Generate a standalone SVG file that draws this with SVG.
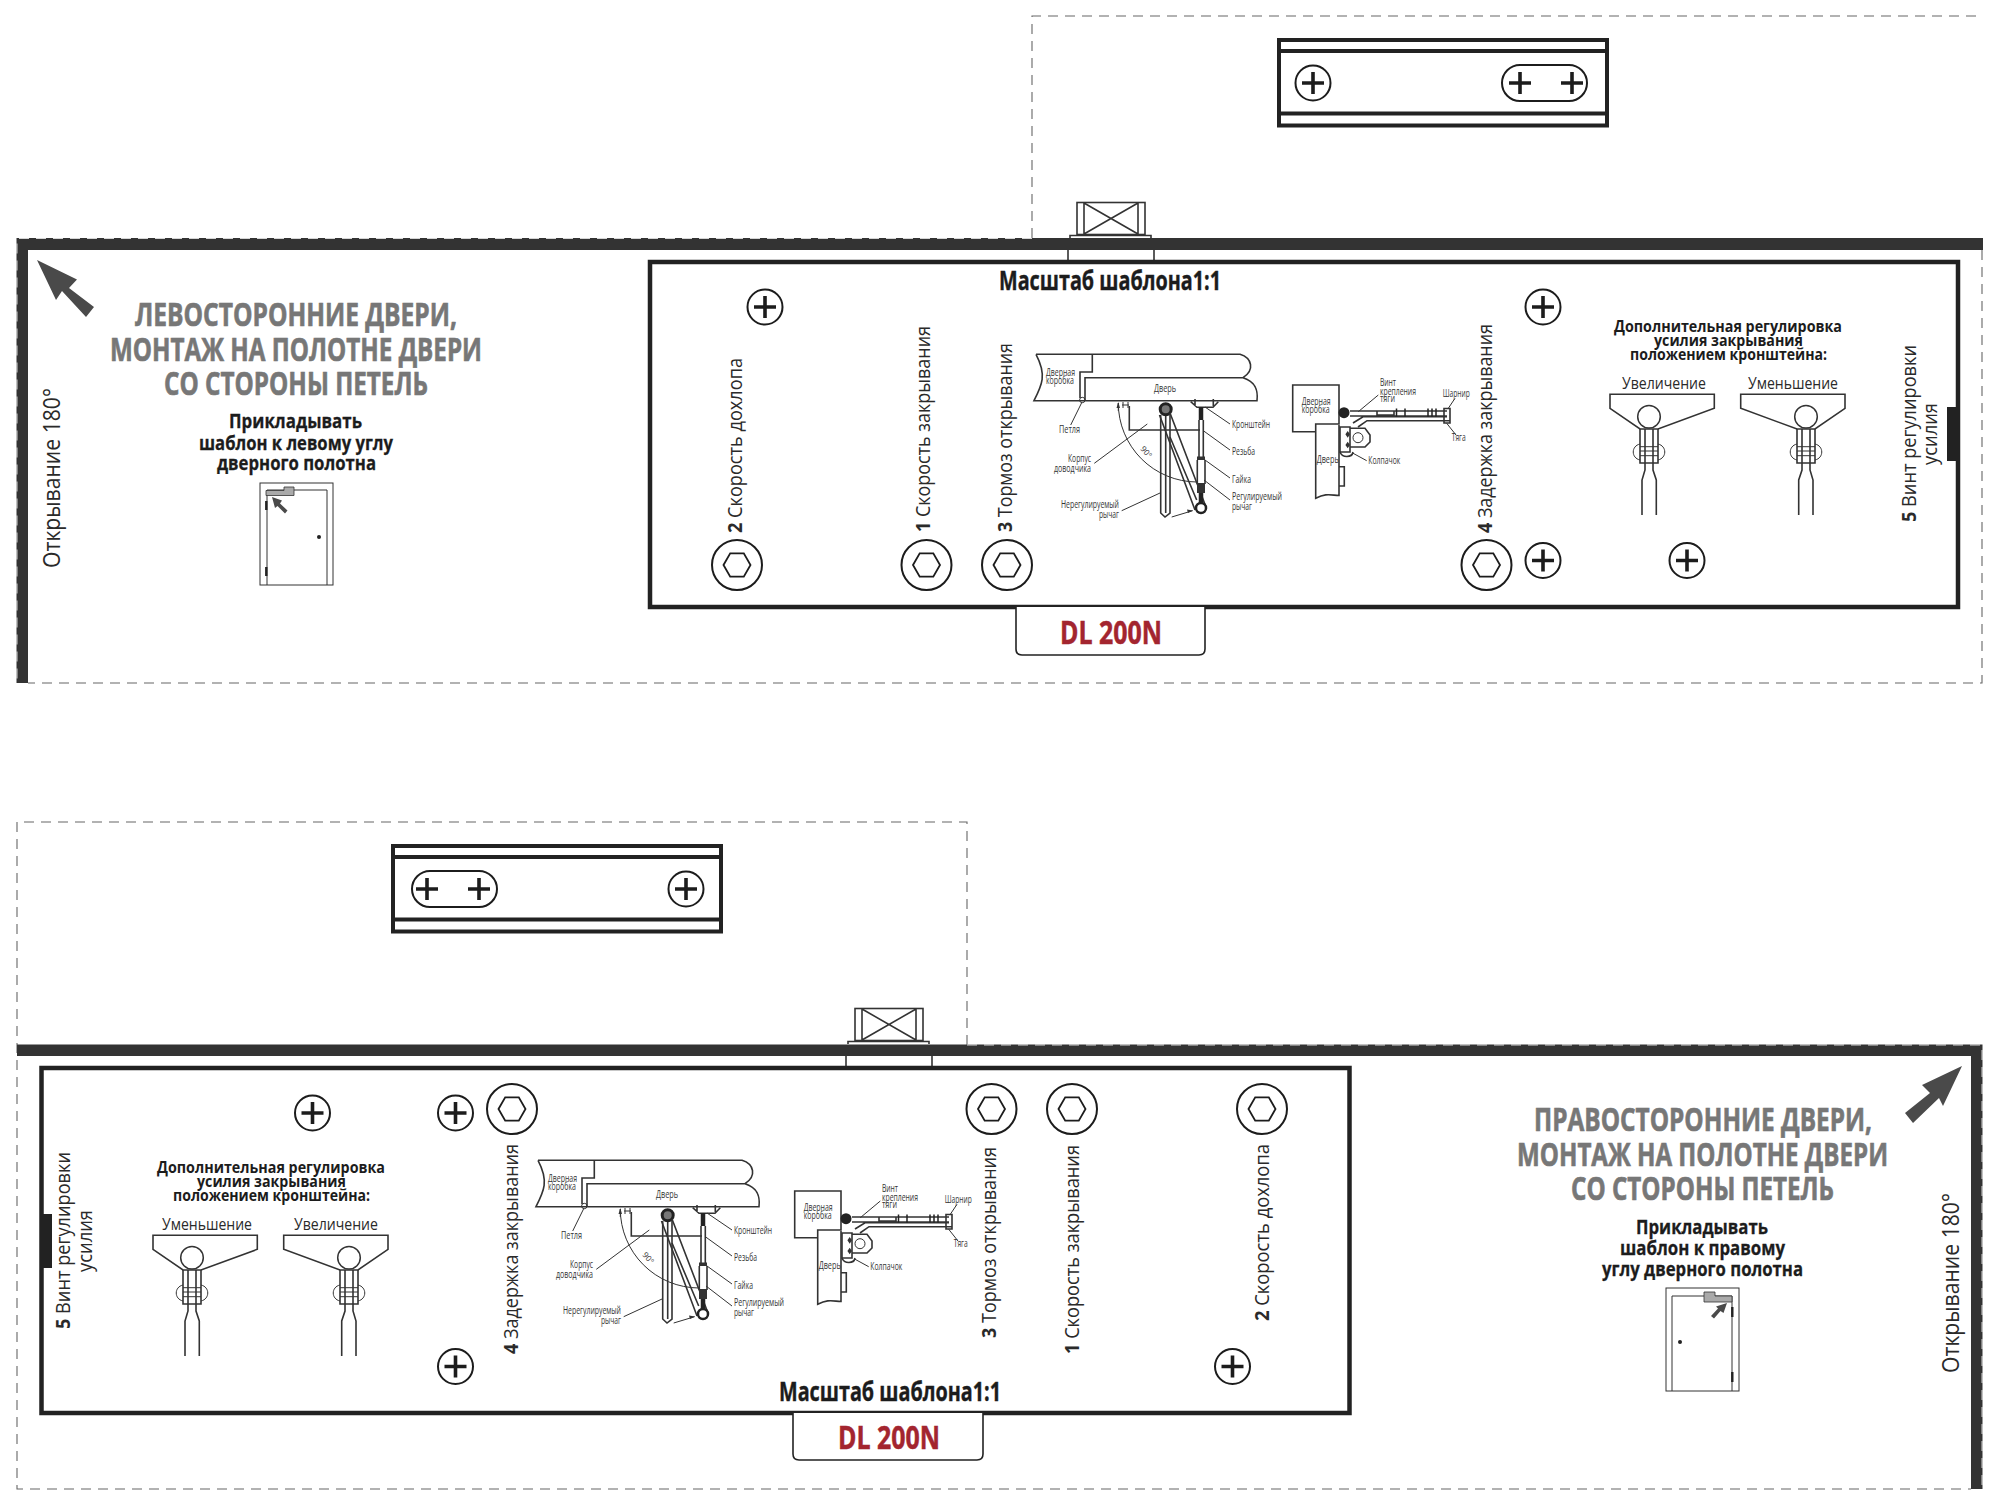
<svg xmlns="http://www.w3.org/2000/svg" xmlns:xlink="http://www.w3.org/1999/xlink" width="2000" height="1501" viewBox="0 0 2000 1501">
<style>
text{font-family:"Open Sans","Liberation Sans",sans-serif;fill:#222}
.hd{font-size:33px;font-weight:700;fill:#777;stroke:#777;stroke-width:.7}
.ins{font-size:19.5px;font-weight:700;fill:#1c1c1c;stroke:#1c1c1c;stroke-width:.3}
.sc{font-size:26px;font-weight:700;fill:#1c1c1c;stroke:#1c1c1c;stroke-width:.4}
.dl{font-size:33px;font-weight:700;fill:#a3252f;stroke:#a3252f;stroke-width:.5}
.lab{font-size:20px;fill:#2a2a2a}
.num{font-weight:700}
.add{font-size:16.5px;font-weight:700;fill:#1c1c1c}
.adl{font-size:15.5px;fill:#2a2a2a}
.op{font-size:23px;fill:#2a2a2a}
.sm{font-size:10px;fill:#333}
.dash{fill:none;stroke:#666;stroke-width:1.1;stroke-dasharray:10 7}
.edge{fill:none;stroke:#fff;stroke-width:.8;stroke-dasharray:10 7}
.bar{fill:#333}
.main{fill:#fff;stroke:#222;stroke-width:4.5}
.thin{fill:none;stroke:#333;stroke-width:1}
.med{fill:none;stroke:#333;stroke-width:1.6}
.blk{fill:#333;stroke:none}
.scr{fill:#fff;stroke:#1c1c1c;stroke-width:2}
.pl{fill:none;stroke:#1c1c1c;stroke-width:3.6}
.hex{fill:none;stroke:#1c1c1c;stroke-width:1.8}
.ar{fill:#4a4a4a}
</style>
<defs>
<g id="screw"><circle class="scr" r="17.5"/><path class="pl" d="M-11 0H11M0 -11V11"/></g>
<g id="hexs"><circle class="scr" r="25"/><path class="hex" d="M-13.5 0L-6.8 -11.7H6.800L13.5 0L6.800 11.7H-6.800Z"/></g>
<g id="plus"><path class="pl" d="M-11 0H11M0 -11V11"/></g>
<g id="adj">
<path class="med" d="M1610 394.3H1714.3V408.3L1658 429H1640L1610 408.3Z"/>
<circle cx="1649" cy="416.7" r="11.3" fill="#fff" stroke="#333" stroke-width="1.5"/>
<path class="med" d="M1640 429V463H1658V429M1645 429V470L1642 480V515M1653 429V470L1656.3 480V515"/>
<path class="thin" d="M1640 446.7H1658M1640 451H1658M1640 455.7H1658M1640 444C1631 446 1631 458 1640 460M1658 444C1667 446 1667 458 1658 460"/>
</g>
<g id="mech">
<path class="med" d="M1036 354.3H1240C1252 358 1255 370 1243 377.7H1085V400.7M1243 377.7C1257 382 1258 392 1257 400.7H1034C1042 385 1047 375 1036 354.3"/>
<path class="med" d="M1092.3 354.3V372H1080V398"/>
<circle class="thin" cx="1082.3" cy="400" r="2.7"/>
<path class="thin" d="M1081.7 402.7L1070.7 425"/>
<path class="med" d="M1129.3 406V430H1200"/>
<path class="thin" d="M1118.3 403V411M1123 402V408M1128 402V408M1122 405H1129M1118.3 403A79 79 0 0 0 1197 482"/>
<path class="blk" d="M1118.3 402L1116.5 408H1120Z"/>
<path class="med" d="M1160.7 415V513L1165 517L1170 513V415M1165.7 415V513"/>
<circle cx="1165.7" cy="409.3" r="5.500" fill="#777" stroke="#222" stroke-width="3"/>
<path class="med" d="M1159.5 415L1195 510M1170 413L1206 507M1170 437L1196.7 500"/>
<circle cx="1201" cy="508" r="5" fill="#fff" stroke="#222" stroke-width="2.5"/>
<path class="med" d="M1190.7 401.7L1197 407.3H1213L1218.3 401.7M1195 399V406M1213.3 399V406"/>
<path d="M1201 407V420M1201 493V504" stroke="#222" stroke-width="4.500" fill="none"/>
<path class="med" d="M1199 420V457M1203.3 420V457M1197.3 460V484M1205 460V484"/>
<rect class="blk" x="1197" y="456.5" width="8" height="3.5"/>
<path class="blk" d="M1197 483H1205V493H1197Z"/>
<path class="thin" d="M1205 407L1230 424M1203.3 430.7L1230 450M1205 460L1230 478M1204 480L1230 500M1094.3 463.3L1147.3 424M1121.7 510.7L1160.7 492.7M1171.7 517L1192.7 510.7"/>
<path class="blk" d="M1193 510.5L1187 509.5L1188 513Z"/>
<path class="med" d="M1292.7 385H1339V424H1315.7V431.7H1292.7ZM1315.7 425V498.3C1326 493 1330 495 1339 495.5V425M1339 466.7H1344.3V486H1339"/>
<circle cx="1344" cy="412.7" r="5.5" fill="#222"/>
<path class="med" d="M1350 411H1447M1350 416H1447M1353 423L1363 416.7H1447M1358 427L1367 420.7H1450M1377 411V415H1394V411"/>
<path d="M1396.5 408.5V416.5M1405 408.5V416.5M1428 408.5V416.5M1432 408.5V416.5M1436 408.5V416.5" stroke="#222" stroke-width="1.5" fill="none"/>
<path class="med" d="M1444 408.5H1450V423H1444Z"/>
<path class="med" d="M1340 427H1350V452H1340ZM1350 428.3H1365L1370 435V442L1365 447H1350"/>
<circle class="thin" cx="1358" cy="437.7" r="5"/>
<path class="blk" d="M1347.7 431L1350 434.3L1347.7 437.7L1345.4 434.3ZM1347.7 441.7L1350 445L1347.7 448.3L1345.4 445Z"/>
<path class="med" d="M1340 452C1342 458 1352 458 1353 452"/>
<path class="thin" d="M1352 452.7L1366.7 460.7M1358.3 411.7L1378.3 395M1448.3 408.3L1455 398.3M1446.7 423.3L1456 435"/>
</g>
</defs>
<rect width="2000" height="1501" fill="#fff"/>

<g id="connectors">
<path class="dash" d="M1032 238V16H1983"/>
<path class="dash" d="M1982 250V683H28"/>
<path class="bar" d="M16.500 238H1983V250H28V683H16.500Z"/>
<path class="edge" d="M1032 238.5H17V683"/>
<path class="dash" d="M967 1045V822H17V1489H1971"/>
<path class="bar" d="M17 1044.500H1982.500V1489H1971V1056H17Z"/>
<path class="edge" d="M967 1045H1982V1489"/>
</g>

<g id="top-door-arm">
<path class="med" d="M1068 250V261M1154 250V261"/>
<path class="med" d="M1070 238V235.500H1151V238"/>
<rect class="med" x="1077" y="202.5" width="68" height="32"/>
<path class="med" d="M1084 203V234M1138 203V234M1084 203L1138 234M1138 203L1084 234"/>
</g>
<g id="bottom-door-arm">
<path class="med" d="M846 1056V1067M932 1056V1067"/>
<path class="med" d="M848 1044V1041.500H929V1044"/>
<rect class="med" x="855" y="1008.5" width="68" height="32"/>
<path class="med" d="M862 1009V1040M916 1009V1040M862 1009L916 1040M916 1009L862 1040"/>
</g>

<g id="top-bracket">
<rect x="1279" y="40" width="328" height="85.500" fill="none" stroke="#222" stroke-width="4"/>
<path d="M1279 51H1607M1279 113.500H1607" stroke="#222" stroke-width="3.800" fill="none"/>
<use xlink:href="#screw" href="#screw" x="1313" y="83"/>
<rect class="scr" x="1502" y="65" width="85" height="36" rx="18"/>
<use xlink:href="#plus" href="#plus" x="1520" y="83"/>
<use xlink:href="#plus" href="#plus" x="1572" y="83"/>
</g>
<g id="bottom-bracket">
<rect x="393" y="846" width="328" height="85.500" fill="none" stroke="#222" stroke-width="4"/>
<path d="M393 857H721M393 919.500H721" stroke="#222" stroke-width="3.800" fill="none"/>
<use xlink:href="#screw" href="#screw" x="686" y="889"/>
<rect class="scr" x="412" y="871" width="85" height="36" rx="18"/>
<use xlink:href="#plus" href="#plus" x="427" y="889"/>
<use xlink:href="#plus" href="#plus" x="479" y="889"/>
</g>

<g id="left-template">
<rect class="main" x="650" y="262" width="1308" height="345"/>
<path d="M1016 607V649Q1016 655 1022 655H1199Q1205 655 1205 649V607" fill="#fff" stroke="#222" stroke-width="1.6"/>
<rect x="1947" y="407" width="11" height="54" fill="#222"/>
<text class="dl" x="1060" y="644" textLength="102" lengthAdjust="spacingAndGlyphs">DL 200N</text>
<text class="sc" x="999" y="290" textLength="222" lengthAdjust="spacingAndGlyphs">Масштаб шаблона1:1</text>
<use xlink:href="#screw" href="#screw" x="765" y="307"/>
<use xlink:href="#screw" href="#screw" x="1543" y="307"/>
<use xlink:href="#screw" href="#screw" x="1543" y="560.500"/>
<use xlink:href="#screw" href="#screw" x="1687" y="560.500"/>
<use xlink:href="#hexs" href="#hexs" x="737" y="565"/>
<use xlink:href="#hexs" href="#hexs" x="926.500" y="565"/>
<use xlink:href="#hexs" href="#hexs" x="1007" y="565"/>
<use xlink:href="#hexs" href="#hexs" x="1486.500" y="565"/>
<text class="lab" transform="translate(742 533) rotate(-90)" textLength="175" lengthAdjust="spacingAndGlyphs"><tspan class="num">2</tspan> Скорость дохлопа</text>
<text class="lab" transform="translate(930 532) rotate(-90)" textLength="206" lengthAdjust="spacingAndGlyphs"><tspan class="num">1</tspan> Скорость закрывания</text>
<text class="lab" transform="translate(1012 532) rotate(-90)" textLength="189" lengthAdjust="spacingAndGlyphs"><tspan class="num">3</tspan> Тормоз открывания</text>
<text class="lab" transform="translate(1492 533) rotate(-90)" textLength="209" lengthAdjust="spacingAndGlyphs"><tspan class="num">4</tspan> Задержка закрывания</text>
<text class="lab" transform="translate(1916 522) rotate(-90)" textLength="177" lengthAdjust="spacingAndGlyphs"><tspan class="num">5</tspan> Винт регулировки</text>
<text class="lab" transform="translate(1937 465) rotate(-90)" textLength="62" lengthAdjust="spacingAndGlyphs">усилия</text>
</g>

<g id="left-mechanism">
<use xlink:href="#mech" href="#mech"/>
<text class="sm" x="1046" y="376" textLength="29" lengthAdjust="spacingAndGlyphs">Дверная</text>
<text class="sm" x="1046" y="384" textLength="28" lengthAdjust="spacingAndGlyphs">коробка</text>
<text class="sm" x="1154" y="392" textLength="22" lengthAdjust="spacingAndGlyphs">Дверь</text>
<text class="sm" x="1059" y="432.7" textLength="21" lengthAdjust="spacingAndGlyphs">Петля</text>
<text class="sm" x="1232" y="427.7" textLength="38" lengthAdjust="spacingAndGlyphs">Кронштейн</text>
<text class="sm" x="1232" y="455" textLength="23" lengthAdjust="spacingAndGlyphs">Резьба</text>
<text class="sm" x="1232" y="483.3" textLength="19" lengthAdjust="spacingAndGlyphs">Гайка</text>
<text class="sm" x="1232" y="500" textLength="50" lengthAdjust="spacingAndGlyphs">Регулируемый</text>
<text class="sm" x="1232" y="510" textLength="20" lengthAdjust="spacingAndGlyphs">рычаг</text>
<text class="sm" x="1068" y="461.7" textLength="23" lengthAdjust="spacingAndGlyphs">Корпус</text>
<text class="sm" x="1054" y="472.3" textLength="37" lengthAdjust="spacingAndGlyphs">доводчика</text>
<text class="sm" x="1061" y="508.3" textLength="58" lengthAdjust="spacingAndGlyphs">Нерегулируемый</text>
<text class="sm" x="1099" y="517.7" textLength="20" lengthAdjust="spacingAndGlyphs">рычаг</text>
<text class="sm" transform="translate(1140 449) rotate(50)" style="font-size:8px">90°</text>
<text class="sm" x="1301.7" y="405" textLength="29" lengthAdjust="spacingAndGlyphs">Дверная</text>
<text class="sm" x="1301.7" y="412.7" textLength="28" lengthAdjust="spacingAndGlyphs">коробка</text>
<text class="sm" x="1316.7" y="462.7" textLength="22" lengthAdjust="spacingAndGlyphs">Дверь</text>
<text class="sm" x="1368.3" y="464" textLength="32" lengthAdjust="spacingAndGlyphs">Колпачок</text>
<text class="sm" x="1380" y="386" textLength="16" lengthAdjust="spacingAndGlyphs">Винт</text>
<text class="sm" x="1380" y="394.7" textLength="36" lengthAdjust="spacingAndGlyphs">крепления</text>
<text class="sm" x="1380" y="402" textLength="15" lengthAdjust="spacingAndGlyphs">тяги</text>
<text class="sm" x="1442.7" y="396.7" textLength="27" lengthAdjust="spacingAndGlyphs">Шарнир</text>
<text class="sm" x="1451.7" y="441" textLength="14" lengthAdjust="spacingAndGlyphs">Тяга</text>
</g>

<g id="left-adjust">
<text class="add" x="1614" y="332" textLength="228" lengthAdjust="spacingAndGlyphs">Дополнительная регулировка</text>
<text class="add" x="1654" y="346" textLength="149" lengthAdjust="spacingAndGlyphs">усилия закрывания</text>
<text class="add" x="1630" y="360" textLength="197" lengthAdjust="spacingAndGlyphs">положением кронштейна:</text>
<text class="adl" x="1622" y="389" textLength="84" lengthAdjust="spacingAndGlyphs">Увеличение</text>
<text class="adl" x="1748" y="389" textLength="90" lengthAdjust="spacingAndGlyphs">Уменьшение</text>
<use xlink:href="#adj" href="#adj"/>
<use xlink:href="#adj" href="#adj" transform="matrix(-1 0 0 1 3455 0)"/>
</g>

<g id="left-title">
<polygon class="ar" points="37,260 77,279.5 69,288 94,307 86,317 62,291 56,300"/>
<text class="hd" x="135" y="326" textLength="322" lengthAdjust="spacingAndGlyphs">ЛЕВОСТОРОННИЕ ДВЕРИ,</text>
<text class="hd" x="110" y="361" textLength="372" lengthAdjust="spacingAndGlyphs">МОНТАЖ НА ПОЛОТНЕ ДВЕРИ</text>
<text class="hd" x="164" y="395" textLength="264" lengthAdjust="spacingAndGlyphs">СО СТОРОНЫ ПЕТЕЛЬ</text>
<text class="ins" x="229" y="428" textLength="133" lengthAdjust="spacingAndGlyphs">Прикладывать</text>
<text class="ins" x="199" y="449.500" textLength="194" lengthAdjust="spacingAndGlyphs">шаблон к левому углу</text>
<text class="ins" x="217" y="470" textLength="159" lengthAdjust="spacingAndGlyphs">дверного полотна</text>
<text class="op" transform="translate(60 568) rotate(-90)" textLength="180" lengthAdjust="spacingAndGlyphs">Открывание 180°</text>
</g>
<g id="left-door">
<rect class="thin" x="260" y="483" width="73" height="102"/>
<path class="thin" d="M267 585V490H327V585"/>
<path d="M266 490.5H284V487H294V495.5H266Z" fill="#aaa" stroke="#333" stroke-width=".8"/>
<path class="ar" d="M272 497L282 500.5L280 503.500L287.500 510.500L285 513.500L277.500 506L275 508Z"/>
<path d="M266.3 501V510M266.3 567V576" stroke="#222" stroke-width="2.4"/>
<circle cx="319" cy="537" r="2" fill="#222"/>
</g>

<g id="right-template">
<rect class="main" x="41.500" y="1068" width="1308" height="345"/>
<path d="M793 1413V1454Q793 1460 799 1460H977Q983 1460 983 1454V1413" fill="#fff" stroke="#222" stroke-width="1.6"/>
<rect x="41" y="1214" width="11" height="54" fill="#222"/>
<text class="dl" x="838" y="1449" textLength="102" lengthAdjust="spacingAndGlyphs">DL 200N</text>
<text class="sc" x="779" y="1401" textLength="222" lengthAdjust="spacingAndGlyphs">Масштаб шаблона1:1</text>
<use xlink:href="#screw" href="#screw" x="312.5" y="1113"/>
<use xlink:href="#screw" href="#screw" x="455.500" y="1113"/>
<use xlink:href="#screw" href="#screw" x="455.500" y="1366.500"/>
<use xlink:href="#screw" href="#screw" x="1232.500" y="1366.500"/>
<use xlink:href="#hexs" href="#hexs" x="512" y="1109"/>
<use xlink:href="#hexs" href="#hexs" x="991.500" y="1109"/>
<use xlink:href="#hexs" href="#hexs" x="1072" y="1109"/>
<use xlink:href="#hexs" href="#hexs" x="1262" y="1109"/>
<text class="lab" transform="translate(518 1354) rotate(-90)" textLength="210" lengthAdjust="spacingAndGlyphs"><tspan class="num">4</tspan> Задержка закрывания</text>
<text class="lab" transform="translate(996 1338) rotate(-90)" textLength="191" lengthAdjust="spacingAndGlyphs"><tspan class="num">3</tspan> Тормоз открывания</text>
<text class="lab" transform="translate(1079 1354) rotate(-90)" textLength="209" lengthAdjust="spacingAndGlyphs"><tspan class="num">1</tspan> Скорость закрывания</text>
<text class="lab" transform="translate(1269 1321) rotate(-90)" textLength="177" lengthAdjust="spacingAndGlyphs"><tspan class="num">2</tspan> Скорость дохлопа</text>
<text class="lab" transform="translate(70 1329) rotate(-90)" textLength="177" lengthAdjust="spacingAndGlyphs"><tspan class="num">5</tspan> Винт регулировки</text>
<text class="lab" transform="translate(92 1272) rotate(-90)" textLength="62" lengthAdjust="spacingAndGlyphs">усилия</text>
</g>

<g id="right-mechanism" transform="translate(-498 806)">
<use xlink:href="#mech" href="#mech"/>
<text class="sm" x="1046" y="376" textLength="29" lengthAdjust="spacingAndGlyphs">Дверная</text>
<text class="sm" x="1046" y="384" textLength="28" lengthAdjust="spacingAndGlyphs">коробка</text>
<text class="sm" x="1154" y="392" textLength="22" lengthAdjust="spacingAndGlyphs">Дверь</text>
<text class="sm" x="1059" y="432.7" textLength="21" lengthAdjust="spacingAndGlyphs">Петля</text>
<text class="sm" x="1232" y="427.7" textLength="38" lengthAdjust="spacingAndGlyphs">Кронштейн</text>
<text class="sm" x="1232" y="455" textLength="23" lengthAdjust="spacingAndGlyphs">Резьба</text>
<text class="sm" x="1232" y="483.3" textLength="19" lengthAdjust="spacingAndGlyphs">Гайка</text>
<text class="sm" x="1232" y="500" textLength="50" lengthAdjust="spacingAndGlyphs">Регулируемый</text>
<text class="sm" x="1232" y="510" textLength="20" lengthAdjust="spacingAndGlyphs">рычаг</text>
<text class="sm" x="1068" y="461.7" textLength="23" lengthAdjust="spacingAndGlyphs">Корпус</text>
<text class="sm" x="1054" y="472.3" textLength="37" lengthAdjust="spacingAndGlyphs">доводчика</text>
<text class="sm" x="1061" y="508.3" textLength="58" lengthAdjust="spacingAndGlyphs">Нерегулируемый</text>
<text class="sm" x="1099" y="517.7" textLength="20" lengthAdjust="spacingAndGlyphs">рычаг</text>
<text class="sm" transform="translate(1140 449) rotate(50)" style="font-size:8px">90°</text>
<text class="sm" x="1301.7" y="405" textLength="29" lengthAdjust="spacingAndGlyphs">Дверная</text>
<text class="sm" x="1301.7" y="412.7" textLength="28" lengthAdjust="spacingAndGlyphs">коробка</text>
<text class="sm" x="1316.7" y="462.7" textLength="22" lengthAdjust="spacingAndGlyphs">Дверь</text>
<text class="sm" x="1368.3" y="464" textLength="32" lengthAdjust="spacingAndGlyphs">Колпачок</text>
<text class="sm" x="1380" y="386" textLength="16" lengthAdjust="spacingAndGlyphs">Винт</text>
<text class="sm" x="1380" y="394.7" textLength="36" lengthAdjust="spacingAndGlyphs">крепления</text>
<text class="sm" x="1380" y="402" textLength="15" lengthAdjust="spacingAndGlyphs">тяги</text>
<text class="sm" x="1442.7" y="396.7" textLength="27" lengthAdjust="spacingAndGlyphs">Шарнир</text>
<text class="sm" x="1451.7" y="441" textLength="14" lengthAdjust="spacingAndGlyphs">Тяга</text>
</g>

<g id="right-adjust" transform="translate(-1457 841)">
<text class="add" x="1614" y="332" textLength="228" lengthAdjust="spacingAndGlyphs">Дополнительная регулировка</text>
<text class="add" x="1654" y="346" textLength="149" lengthAdjust="spacingAndGlyphs">усилия закрывания</text>
<text class="add" x="1630" y="360" textLength="197" lengthAdjust="spacingAndGlyphs">положением кронштейна:</text>
<text class="adl" x="1619" y="389" textLength="90" lengthAdjust="spacingAndGlyphs">Уменьшение</text>
<text class="adl" x="1751" y="389" textLength="84" lengthAdjust="spacingAndGlyphs">Увеличение</text>
<use xlink:href="#adj" href="#adj"/>
<use xlink:href="#adj" href="#adj" transform="matrix(-1 0 0 1 3455 0)"/>
</g>

<g id="right-title">
<polygon class="ar" points="1962,1066 1922,1085 1930,1093 1905,1113 1913,1123 1939,1098 1943,1106"/>
<text class="hd" x="1534" y="1131" textLength="338" lengthAdjust="spacingAndGlyphs">ПРАВОСТОРОННИЕ ДВЕРИ,</text>
<text class="hd" x="1517" y="1166" textLength="371" lengthAdjust="spacingAndGlyphs">МОНТАЖ НА ПОЛОТНЕ ДВЕРИ</text>
<text class="hd" x="1571" y="1200" textLength="263" lengthAdjust="spacingAndGlyphs">СО СТОРОНЫ ПЕТЕЛЬ</text>
<text class="ins" x="1636" y="1233.500" textLength="132" lengthAdjust="spacingAndGlyphs">Прикладывать</text>
<text class="ins" x="1620" y="1255" textLength="165" lengthAdjust="spacingAndGlyphs">шаблон к правому</text>
<text class="ins" x="1602" y="1275.500" textLength="201" lengthAdjust="spacingAndGlyphs">углу дверного полотна</text>
<text class="op" transform="translate(1959 1373) rotate(-90)" textLength="180" lengthAdjust="spacingAndGlyphs">Открывание 180°</text>
</g>
<g id="right-door">
<rect class="thin" x="1666" y="1288" width="73" height="103"/>
<path class="thin" d="M1672 1391V1296H1732V1391"/>
<path d="M1704 1292H1715V1296H1732V1302H1704Z" fill="#aaa" stroke="#333" stroke-width=".8"/>
<path class="ar" d="M1727 1303L1723.500 1313L1720.500 1311L1714 1318.500L1711 1316L1718 1308.500L1716 1306.500Z"/>
<path d="M1732.300 1307V1317M1732.300 1372V1382" stroke="#222" stroke-width="2.400"/>
<circle cx="1680" cy="1342" r="2" fill="#222"/>
</g>
</svg>
